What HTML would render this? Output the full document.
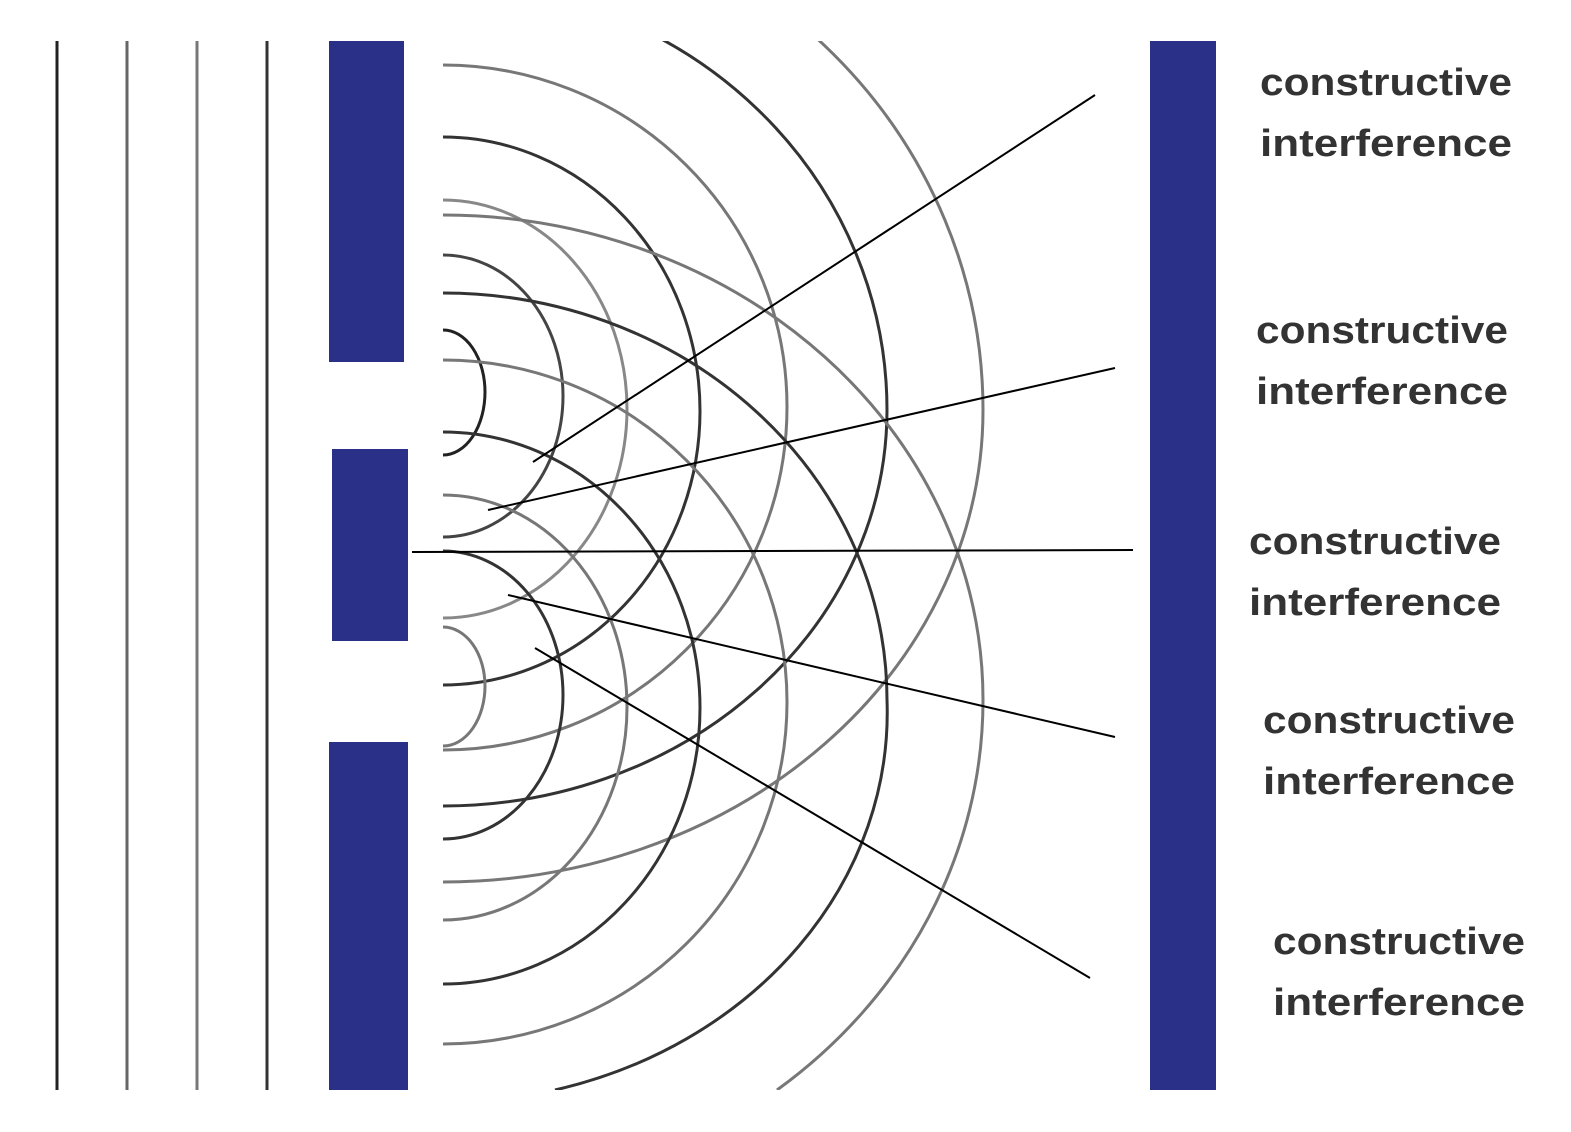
<!DOCTYPE html>
<html><head><meta charset="utf-8"><style>html,body{margin:0;padding:0;background:#fff;width:1571px;height:1132px;overflow:hidden}svg{display:block;overflow:hidden}</style></head>
<body>
<svg width="1571" height="1132" viewBox="0 0 1571 1132" xmlns="http://www.w3.org/2000/svg">
<defs><clipPath id="c"><rect x="443" y="41" width="700" height="1049"/></clipPath></defs>
<g stroke-width="3" fill="none">
<line x1="57" y1="41" x2="57" y2="1090" stroke="#222"/>
<line x1="127" y1="41" x2="127" y2="1090" stroke="#666"/>
<line x1="197" y1="41" x2="197" y2="1090" stroke="#777"/>
<line x1="267" y1="41" x2="267" y2="1090" stroke="#333"/>
</g>
<g fill="#2a3087">
<rect x="329" y="41" width="75" height="321"/>
<rect x="332" y="449" width="76" height="192"/>
<rect x="329" y="742" width="79" height="348"/>
<rect x="1150" y="41" width="66" height="1049"/>
</g>
<g clip-path="url(#c)" fill="none" stroke-width="3">
<path d="M443 330 A42 62 0 0 1 485 392 A42 63 0 0 1 443 455" stroke="#222"/>
<path d="M443 255 A120 141 0 0 1 563 396 A120 141 0 0 1 443 537" stroke="#444"/>
<path d="M443 200 A184 209 0 0 1 627 409 A184 209 0 0 1 443 618" stroke="#888"/>
<path d="M443 137 A257 274 0 0 1 700 411 A257 274 0 0 1 443 685" stroke="#333"/>
<path d="M443 65 A344 342 0 0 1 787 407 A344 343 0 0 1 443 750" stroke="#777"/>
<path d="M443 -16 A444 426 0 0 1 887 410 A444 396 0 0 1 443 806" stroke="#333"/>
<path d="M443 -105 A540 515 0 0 1 983 410 A540 472 0 0 1 443 882" stroke="#777"/>
<path d="M443 627 A42 59 0 0 1 485 686 A42 60 0 0 1 443 746" stroke="#777"/>
<path d="M443 551 A120 144 0 0 1 563 695 A120 144 0 0 1 443 839" stroke="#333"/>
<path d="M443 495 A184 212 0 0 1 627 707 A184 213 0 0 1 443 920" stroke="#777"/>
<path d="M443 432 A257 276 0 0 1 700 708 A257 276 0 0 1 443 984" stroke="#333"/>
<path d="M443 360 A344 342 0 0 1 787 702 A344 342 0 0 1 443 1044" stroke="#777"/>
<path d="M443 293 A444 407 0 0 1 887 700 A444 390 0 0 1 555 1090" stroke="#333"/>
<path d="M443 215 A540 485 0 0 1 983 700 A540 496 0 0 1 777 1090" stroke="#777"/>
</g>
<g stroke="#000" stroke-width="2" fill="none">
<line x1="533" y1="462" x2="1095" y2="95"/>
<line x1="488" y1="510" x2="1115" y2="368"/>
<line x1="412" y1="552" x2="1133" y2="550"/>
<line x1="508" y1="595" x2="1115" y2="737"/>
<line x1="535" y1="648" x2="1090" y2="978"/>
</g>
<g font-family="Liberation Sans, sans-serif" font-weight="bold" font-size="38" fill="#333">
<text x="1260" y="95" textLength="252" lengthAdjust="spacingAndGlyphs">constructive</text>
<text x="1260" y="156" textLength="252" lengthAdjust="spacingAndGlyphs">interference</text>
<text x="1256" y="343" textLength="252" lengthAdjust="spacingAndGlyphs">constructive</text>
<text x="1256" y="404" textLength="252" lengthAdjust="spacingAndGlyphs">interference</text>
<text x="1249" y="554" textLength="252" lengthAdjust="spacingAndGlyphs">constructive</text>
<text x="1249" y="615" textLength="252" lengthAdjust="spacingAndGlyphs">interference</text>
<text x="1263" y="733" textLength="252" lengthAdjust="spacingAndGlyphs">constructive</text>
<text x="1263" y="794" textLength="252" lengthAdjust="spacingAndGlyphs">interference</text>
<text x="1273" y="954" textLength="252" lengthAdjust="spacingAndGlyphs">constructive</text>
<text x="1273" y="1015" textLength="252" lengthAdjust="spacingAndGlyphs">interference</text>
</g>
</svg>
</body></html>
